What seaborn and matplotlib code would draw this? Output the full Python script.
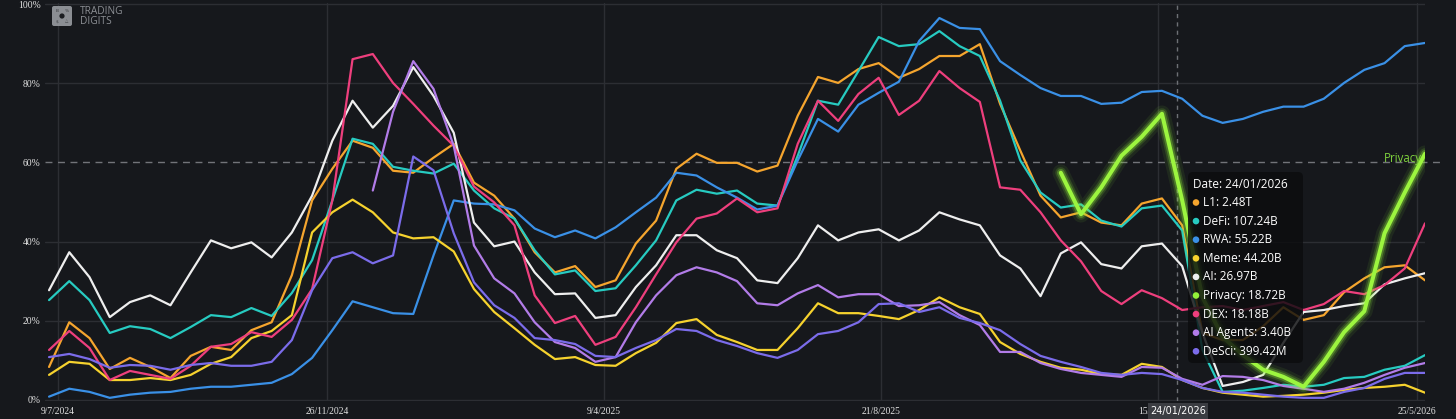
import matplotlib
matplotlib.use("Agg")
import matplotlib.pyplot as plt
from matplotlib.patches import FancyBboxPatch, Rectangle, Circle
import numpy as np
import pandas as pd
import seaborn as sns

nan = np.nan

# x axis: 69 evenly spaced samples from 9/7/2024 to 25/5/2026
tick_labels = ['9/7/2024', '26/11/2024', '9/4/2025', '21/8/2025', '15/1/2026', '25/5/2026']
y_ticks = [0, 20, 40, 60, 80, 100]

# share of the top (%) per sector
l1 = [8.3, 19.6, 15.6, 7.8, 10.6, 8.3, 5.5, 11.1, 13.4, 12.6,
      17.6, 19.6, 31.5, 50.4, 58.4, 65.5, 63.7, 57.9, 57.4, 61.2,
      64.7, 54.9, 51.6, 45.8, 37.3, 32.2, 33.8, 28.5, 30.2, 39.5,
      45.3, 58.4, 62.2, 59.9, 59.9, 57.7, 59.2, 71.8, 81.6, 80.1,
      83.6, 85.1, 81.4, 83.6, 86.9, 86.9, 89.9, 74.8, 63.0, 51.6,
      46.1, 47.4, 44.8, 44.1, 49.6, 50.9, 44.1, 16.9, 15.1, 15.1,
      18.6, 23.4, 20.2, 21.4, 27.2, 30.7, 33.5, 34.0, 30.2]
defi = [25.2, 30.0, 25.2, 16.9, 18.6, 17.9, 15.6, 18.4, 21.4, 20.9,
        23.2, 21.2, 27.0, 35.3, 50.4, 66.0, 64.7, 58.9, 57.9, 57.2,
        59.7, 52.9, 48.4, 45.8, 37.8, 31.7, 32.7, 27.5, 28.2, 34.0,
        40.3, 50.4, 53.1, 52.1, 52.9, 49.6, 49.1, 61.7, 75.6, 74.6,
        83.1, 91.7, 89.4, 89.9, 93.2, 89.4, 86.9, 75.6, 60.5, 52.4,
        48.6, 49.4, 45.3, 43.8, 48.4, 49.1, 42.8, 12.6, 2.0, 2.3,
        3.0, 3.8, 3.3, 3.8, 5.5, 5.8, 7.6, 8.6, 11.3]
rwa = [0.8, 2.8, 2.0, 0.5, 1.3, 1.8, 2.0, 2.8, 3.3, 3.3,
       3.8, 4.3, 6.5, 10.6, 17.6, 24.9, 23.4, 21.9, 21.7, 36.5,
       50.4, 49.6, 49.4, 47.9, 43.3, 41.1, 42.8, 40.8, 43.6, 47.4,
       51.1, 57.4, 56.7, 53.7, 51.1, 48.1, 49.1, 60.5, 71.0, 67.8,
       74.6, 77.6, 80.4, 90.7, 96.5, 94.0, 93.7, 85.6, 82.1, 78.8,
       76.8, 76.8, 74.8, 75.1, 77.8, 78.1, 76.1, 71.8, 70.0, 71.0,
       72.8, 74.1, 74.1, 76.1, 80.1, 83.4, 85.1, 89.4, 90.2]
meme = [6.3, 9.6, 9.1, 5.0, 5.0, 5.5, 5.0, 6.3, 9.1, 10.8,
        15.6, 17.4, 21.4, 42.3, 47.4, 50.6, 47.4, 42.3, 40.8, 41.1,
        37.5, 28.0, 22.2, 18.1, 13.9, 10.3, 10.8, 8.8, 8.6, 11.8,
        14.4, 19.4, 20.4, 16.4, 14.6, 12.6, 12.6, 18.1, 24.4, 21.9,
        21.9, 21.2, 20.4, 22.7, 25.9, 23.4, 21.7, 14.6, 11.6, 9.6,
        8.1, 7.6, 6.5, 6.3, 9.1, 8.3, 5.0, 3.0, 1.8, 1.3,
        0.8, 1.0, 1.3, 1.8, 2.5, 3.0, 3.3, 3.8, 1.8]
ai = [27.7, 37.3, 31.0, 20.9, 24.7, 26.4, 23.9, 32.2, 40.3, 38.3,
      39.8, 36.0, 42.3, 51.6, 65.5, 75.6, 68.8, 74.3, 84.1, 76.8,
      67.5, 44.8, 38.8, 40.0, 32.2, 26.7, 26.9, 20.7, 21.4, 28.5,
      34.0, 41.6, 41.6, 37.8, 35.8, 30.2, 29.5, 35.8, 44.1, 40.3,
      42.3, 43.1, 40.3, 42.8, 47.4, 45.6, 44.1, 36.5, 33.2, 26.2,
      37.0, 39.8, 34.3, 33.2, 38.8, 39.5, 33.8, 16.9, 3.5, 4.5,
      6.3, 14.4, 22.2, 22.7, 23.7, 24.4, 29.2, 30.7, 32.0]
privacy = [nan] * 50 + [57.4, 46.9, 53.7, 61.7, 66.5, 72.3, 50.4, 25.9, 15.9, 11.3,
                        7.6, 5.8, 3.3, 9.6, 17.1, 22.4, 42.1, 52.4, 62.2]
dex = [12.6, 17.4, 13.1, 5.0, 7.3, 6.3, 5.3, 8.6, 13.4, 14.1,
       17.1, 15.9, 20.2, 28.0, 50.4, 86.1, 87.4, 80.1, 74.8, 69.3,
       64.2, 53.9, 49.9, 44.1, 26.4, 19.4, 21.2, 13.9, 15.9, 23.4,
       31.7, 39.8, 45.8, 47.1, 50.9, 47.4, 48.4, 64.7, 75.6, 70.5,
       77.3, 81.4, 72.0, 75.6, 83.1, 78.8, 75.3, 53.7, 53.1, 47.4,
       40.3, 35.0, 27.5, 24.2, 27.7, 25.7, 22.7, 23.4, 23.7, 22.7,
       23.7, 24.7, 22.7, 24.2, 27.5, 26.7, 29.0, 33.2, 44.6]
ai_agents = [nan] * 16 + [52.9, 72.8, 85.6, 78.6, 64.2, 39.0, 30.7, 26.9, 19.6, 14.6,
                          13.1, 9.6, 10.8, 19.6, 26.4, 31.5, 33.5, 32.2, 30.0, 24.4,
                          23.9, 26.9, 29.0, 25.9, 26.7, 26.7, 23.7, 23.9, 24.7, 21.4,
                          18.9, 12.1, 12.1, 9.3, 7.8, 6.8, 6.3, 5.8, 8.3, 8.1,
                          5.3, 3.8, 6.0, 5.8, 5.0, 3.5, 2.8, 2.0, 2.8, 4.3,
                          6.3, 8.1, 9.3]
desci = [10.8, 11.6, 10.3, 8.1, 8.8, 8.6, 7.6, 8.8, 9.3, 8.6,
         8.6, 9.6, 15.1, 27.7, 35.8, 37.3, 34.5, 36.5, 61.5, 58.0,
         42.1, 29.7, 23.9, 20.7, 15.6, 15.1, 14.1, 11.1, 10.8, 13.1,
         15.1, 17.9, 17.4, 15.1, 13.6, 11.8, 10.6, 12.6, 16.6, 17.4,
         19.6, 24.2, 24.4, 22.2, 23.4, 20.7, 19.4, 17.6, 14.1, 11.1,
         9.6, 8.3, 6.8, 6.3, 6.8, 6.5, 5.0, 3.0, 2.0, 1.8,
         1.3, 0.8, 0.5, 0.5, 2.0, 3.0, 5.3, 6.8, 6.8]

# tooltip content at the hovered date
tip_date = '24/01/2026'
tip_names = ['L1', 'DeFi', 'RWA', 'Meme', 'AI', 'Privacy', 'DEX', 'AI Agents', 'DeSci']
tip_values = ['2.48T', '107.24B', '55.22B', '44.20B', '26.97B', '18.72B', '18.18B', '3.40B', '399.42M']

colors = {'L1': '#f5a52e', 'DeFi': '#27cbc1', 'RWA': '#3a90e6', 'Meme': '#f6d22e',
          'AI': '#eeeeee', 'Privacy': '#93f23a', 'DEX': '#ee3f7d',
          'AI Agents': '#b27ce8', 'DeSci': '#7b6cea'}

bg = '#16181c'
grid_c = '#2c2e33'

sns.set_style('dark', rc={'axes.facecolor': bg, 'figure.facecolor': bg,
                          'axes.edgecolor': bg, 'grid.color': grid_c})

fig = plt.figure(figsize=(14.56, 4.19), dpi=100)
ax = fig.add_axes([45 / 1456, 18 / 419, 1380 / 1456, 398 / 419])

x = np.arange(len(l1))
series = [('L1', l1), ('DeFi', defi), ('RWA', rwa), ('Meme', meme), ('AI', ai),
          ('DEX', dex), ('AI Agents', ai_agents), ('DeSci', desci)]
for name, vals in series:
    df = pd.DataFrame({'x': x, 'y': vals}).dropna()
    sns.lineplot(data=df, x='x', y='y', color=colors[name], linewidth=1.6,
                 estimator=None, sort=False, ax=ax)

# privacy line with glow
dfp = pd.DataFrame({'x': x, 'y': privacy}).dropna()
for lw, a in [(12, 0.08), (8, 0.16), (5.5, 0.3)]:
    sns.lineplot(data=dfp, x='x', y='y', color=colors['Privacy'], linewidth=lw,
                 alpha=a, estimator=None, sort=False, ax=ax)
sns.lineplot(data=dfp, x='x', y='y', color='#9cf53f', linewidth=2.9,
             estimator=None, sort=False, ax=ax)

# axes, ticks, grid
step = 20.235  # pixels per sample
tick_pos = [(p - 49) / step for p in [58, 327, 604, 881, 1158, 1417]]
ax.set_xlim(-0.2, 68.0)
ax.set_ylim(-0.3, 100.3)
ax.set_xticks(tick_pos)
ax.set_xticklabels(tick_labels)
ax.set_yticks(y_ticks)
ax.set_yticklabels([f'{v}%' for v in y_ticks])
ax.set_xlabel('')
ax.set_ylabel('')
ax.tick_params(length=0, colors='#e2e2e2', labelsize=6.9)
ax.tick_params(axis='x', pad=4)
ax.tick_params(axis='y', pad=3)
for lab in ax.get_xticklabels() + ax.get_yticklabels():
    lab.set_family('Liberation Serif')
ax.grid(True, color=grid_c, linewidth=1.0)
ax.get_ygridlines()[3].set_visible(False)
for s in ax.spines.values():
    s.set_visible(False)

# 60% dashed reference line and label
ax.plot([-0.2, (1440 - 49) / step], [60, 60], color='#727479', lw=1.0,
        dashes=(5, 4), clip_on=False, zorder=1)
ax.text((1422 - 49) / step, 61.0, 'Privacy', color='#7fd23c', fontsize=8.3,
        family='Open Sans', ha='right', va='center')

# crosshair
ax.axvline((1177 - 49) / step, color='#6d7075', lw=1.0, dashes=(3, 3), zorder=1)

# overlay in pixel coordinates for tooltip, date tag and watermark
ov = fig.add_axes([0, 0, 1, 1], zorder=10)
ov.set_xlim(0, 1456)
ov.set_ylim(419, 0)
ov.axis('off')
ov.patch.set_alpha(0)

ov.add_patch(FancyBboxPatch((1188, 172), 115, 191, boxstyle='round,pad=0,rounding_size=5',
                            fc='#0b0c0e', ec='none', alpha=0.82))
ov.text(1193, 184, f'Date: {tip_date}', color='white', fontsize=8.5,
        family='Open Sans', va='center', ha='left')
for k, (nm, val) in enumerate(zip(tip_names, tip_values)):
    yy = 202.5 + k * 18.6
    ov.add_patch(Circle((1196, yy), 3.3, fc=colors[nm], ec='none'))
    ov.text(1203, yy, f'{nm}: {val}', color='white', fontsize=8.5,
            family='Open Sans', va='center', ha='left')

ov.add_patch(Rectangle((1148, 403), 60, 16, fc='#3b3d42', ec='none'))
ov.text(1178, 411, tip_date, color='white', fontsize=7, family='DejaVu Sans',
        ha='center', va='center')

# watermark
ov.add_patch(FancyBboxPatch((52, 6), 20, 20, boxstyle='round,pad=0,rounding_size=2',
                            fc='#8b8e93', ec='none'))
ov.add_patch(Circle((62, 16), 2.6, fc='#1b1d21', ec='none'))
for tx, ty, ch in [(57, 11, 'B'), (67, 11, '%'), (57, 21.5, '$'), (67, 21.5, '△')]:
    ov.text(tx, ty, ch, color='#3a3c40', fontsize=3.2, ha='center', va='center')
ov.text(80, 11, 'TRADING', color='#8c8f94', fontsize=7.3, family='Open Sans',
        ha='left', va='center')
ov.text(80, 22, 'DIGITS', color='#8c8f94', fontsize=7.3, family='Open Sans',
        ha='left', va='center')

fig.savefig('out.png', dpi=100, facecolor=bg)
